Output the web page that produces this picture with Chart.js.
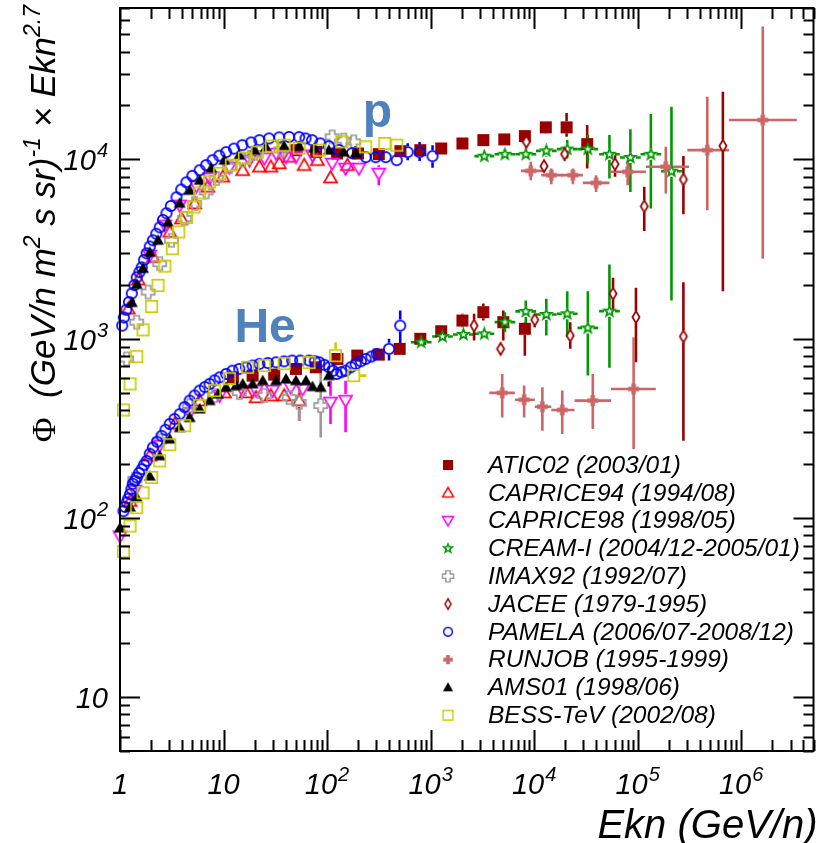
<!DOCTYPE html>
<html>
<head>
<meta charset="utf-8">
<script src="https://cdn.jsdelivr.net/npm/chart.js@4.4.1/dist/chart.umd.min.js"></script>
<style>
  html, body { margin: 0; padding: 0; background: #fff; }
</style>
</head>
<body>
<canvas id="fluxChart" width="821" height="843"></canvas>
<script>
// rows: [Ekn, flux, fluxLo, fluxHi, eLo, eHi]
var aticP = [[50.3, 11270], [78.4, 11030], [125, 10800], [199, 10800], [316, 10710], [511, 11120], [796, 11270],
  [1267, 11510], [2031, 12280], [3235, 12820], [5150, 12940], [8140, 13500, 12540, 14560],
  [12960, 15100, 13970, 16220], [20600, 15100, 13370, 18160], [32580, 12180, 8910, 15560]];
var aticHe = [[12.3, 608], [19.1, 622], [30.9, 630], [50, 678], [77.9, 692], [126, 771], [196, 805], [316, 815],
  [503, 877], [796, 998], [1267, 1100], [2031, 1262, 1159, 1377], [3235, 1406, 1262, 1571],
  [5036, 1236, 977, 1436], [8140, 1135, 804, 1236]];

var caprice94P = [[1.20, 1468], [1.50, 2133], [2.09, 2851], [3.03, 3937], [3.92, 4677], [5.26, 5675], [7.06, 7030],
  [9.85, 8000], [15.3, 8710], [22.2, 9100], [28.7, 9100], [34.5, 9500], [43.1, 10340], [60.1, 9290],
  [80.7, 9910], [108, 7920, 7400, 8500], [157, 9290]];
var caprice94He = [[1.25, 124], [1.94, 222], [3.38, 335], [5.88, 451], [10.2, 500], [16.5, 501], [20.6, 470],
  [28.7, 481], [38.5, 481], [53.8, 451, 348, 513]];

var caprice98P = [[1.94, 2917], [2.71, 4296], [3.77, 5550], [5.47, 7100], [7.34, 7860], [11.4, 9060], [17.8, 9910],
  [24.8, 10170], [32.2, 10810], [40.1, 10340], [50, 10340], [72.3, 10570], [112, 9500],
  [151, 8910, 8300, 9600], [203, 8910, 8200, 9700], [316, 8360, 7180, 9290]];
var caprice98He = [[1.0, 79], [1.39, 142], [2.42, 253], [4.71, 386], [9.17, 481], [15.3, 513], [20.6, 513],
  [29.8, 513], [44.6, 535], [58.1, 524], [108, 441, 334, 583], [151, 451, 300, 583]];

var creamP = [[3304, 10430, null, null, 2650, 4120], [5227, 10690, null, null, 4150, 6580],
  [8318, 10690, null, null, 6600, 10480], [13120, 11170, 10340, 12020, 10420, 16520],
  [20900, 11420, 10130, 12820, 16600, 26300], [33050, 11420, 9500, 13670, 26250, 41600],
  [53440, 10690, 7830, 13670, 42450, 67300], [85110, 10260, 6590, 14720, 67600, 107200],
  [134300, 10690, 5320, 17910, 106700, 169100], [212300, 8600, 1633, 19680, 168600, 267300]];
var creamHe = [[812, 955, null, null, 645, 1022], [1303, 1028, null, null, 1035, 1640],
  [2075, 1055, null, null, 1648, 2612], [3304, 1064, null, null, 2650, 4120],
  [5227, 1236, 1086, 1406, 4150, 6580], [8318, 1419, 1183, 1634, 6600, 10480],
  [13120, 1364, 1040, 1668, 10420, 16520], [20900, 1377, 1018, 1841, 16600, 26300],
  [33050, 1148, 622, 1841, 26250, 41600], [53440, 1424, 687, 2594, 42450, 67300]];

var imaxP = [[1.16, 771], [1.45, 1236], [1.87, 1820], [2.42, 2620], [3.14, 3540], [4.21, 4677], [5.26, 5675],
  [6.8, 6590], [8.52, 7830], [11.4, 9100], [15.3, 9910], [19.9, 10810], [36, 11300], [112, 13370],
  [145, 12820], [181, 12540]];
var imaxHe = [[1.39, 164], [2.42, 269], [4.71, 422], [8.19, 481], [14.2, 500], [24.8, 481], [43.1, 469],
  [53.8, 441, 348, 547], [86.9, 423, 281, 726]];

var jaceeP = [[8420, 12540], [12480, 9180, 8530, 9910], [19720, 10710, 9910, 11530], [60530, 9410, 8000, 10570],
  [115900, 5480, 3990, 7030], [276800, 7730, 4940, 10440], [666200, 11910, 1841, 23880]];
var jaceeHe = [[2632, 1183, 975, 1376], [4746, 877], [10140, 1274, 1159, 1376], [22340, 1040, 877, 1236],
  [57890, 1783, 1436, 2188], [96370, 1319, 738, 1923], [276800, 1028, 269, 2066]];

var pamelaP = [[1.05, 1183], [1.09, 1313], [1.15, 1450], [1.22, 1600], [1.30, 1787], [1.38, 1990], [1.45, 2198],
  [1.54, 2350], [1.62, 2500], [1.71, 2750], [1.81, 2993], [1.94, 3270], [2.08, 3540], [2.24, 3850],
  [2.42, 4180], [2.60, 4600], [2.81, 5010], [3.10, 5500], [3.51, 6150], [3.90, 6800], [4.38, 7460],
  [5.0, 8100], [5.88, 8710], [6.8, 9300], [7.84, 9910], [9.1, 10500], [10.6, 10990], [12.6, 11500],
  [15.2, 12020], [18.5, 12450], [22.2, 12810], [27.5, 13100], [34.5, 13280], [43, 13350], [53.8, 13330],
  [62, 13100], [71.7, 12810], [86, 12300], [104, 11870], [130, 11300], [174, 10840], [237, 10300],
  [295, 10300], [369, 10300], [471, 9910, 9300, 10600, 430, 516], [601, 10990, 9900, 12300, 549, 658],
  [784, 10990, 9800, 12500, 716, 858], [1045, 10430, 9000, 12000, 955, 1144]];
var pamelaHe = [[1.08, 109], [1.12, 115], [1.16, 122], [1.20, 128], [1.25, 135.5], [1.29, 145], [1.33, 155],
  [1.39, 161], [1.45, 168], [1.53, 178], [1.62, 187], [1.71, 198], [1.81, 208], [1.94, 228], [2.08, 247],
  [2.28, 266], [2.52, 287], [2.75, 310], [3.02, 334], [3.36, 356], [3.77, 379], [4.2, 415], [4.71, 451],
  [5.25, 482], [5.88, 513], [6.6, 537], [7.34, 559], [8.2, 585], [9.17, 608], [10.6, 635], [12.2, 663],
  [14.2, 678], [16.5, 692], [19.1, 708], [22.2, 723], [26.8, 731], [32.2, 738], [38.5, 747], [46, 755],
  [55, 755], [67, 755], [76, 748], [83.9, 738], [94, 715], [104.6, 692], [114, 662], [124, 635], [137, 650],
  [151, 663], [170, 693], [189, 723], [212, 748], [236, 771], [268, 795], [302, 822],
  [397, 877, 755, 1000, 362, 435], [509, 1183, 895, 1436, 465, 557]];

var runjobP = [[9290, 8630, 7660, 9700, 7450, 12210], [14660, 8170, 7280, 8910, 11730, 19010],
  [23710, 8170, 7280, 8910, 18320, 29580], [39700, 7400, 6590, 8170, 29580, 53440],
  [80160, 8530, 7180, 9700, 53440, 120200], [187100, 9100, 6450, 11760, 120200, 314100],
  [471200, 11270, 5200, 22400, 302600, 762000], [1618000, 16590, 2790, 55210, 762000, 3453000]];
var runjobHe = [[4920, 498, 363, 635, 3690, 6520], [8010, 456, 363, 547, 6520, 10160],
  [12020, 417, 306, 535, 10160, 14660], [18700, 400, 294, 513, 14660, 24600],
  [36900, 451, 313, 635, 24600, 55340], [91500, 524, 242, 1018, 55340, 150000]];

var ams01P = [[1.30, 1592], [1.45, 2009], [1.67, 2466], [1.94, 3034], [2.33, 3540], [2.91, 4457], [3.77, 5700],
  [4.71, 6730], [5.88, 7660], [7.62, 8940], [10.2, 9910], [14.2, 10570], [19.9, 11270], [25.7, 11720],
  [38.5, 11860], [53.8, 11860], [75.1, 11570], [104, 11270], [145, 10990], [189, 10840, 10000, 11900]];
var ams01He = [[1.00, 88], [1.25, 115], [1.45, 130], [1.94, 171], [2.42, 222], [3.02, 275], [3.77, 319],
  [4.71, 363], [5.88, 405], [7.34, 451], [8.83, 491], [10.6, 535], [13.2, 547], [15.3, 559], [19.1, 559],
  [23.9, 583], [32.2, 583], [40.1, 596], [50.0, 583], [62.6, 583], [72.3, 540], [86.9, 535],
  [104, 622, 540, 700]];

var bessP = [[1.08, 400], [1.25, 559], [1.45, 794], [1.67, 1120], [2.02, 1512], [2.33, 1982], [2.71, 2541],
  [3.21, 3177], [3.69, 3937], [4.38, 4742], [5.18, 5430], [5.88, 6500], [7.34, 7500], [9.17, 8356],
  [11.9, 9290], [15.9, 10170], [21.2, 10990], [29.0, 11870], [38.5, 12020], [53.8, 11570], [84.1, 11270],
  [139, 12540], [236, 11760], [361, 12280], [472, 12020]];
var bessHe = [[1.08, 65], [1.25, 90], [1.45, 114], [1.67, 138], [2.02, 168], [2.42, 208], [3.02, 256],
  [4.21, 327], [5.88, 423], [8.19, 513], [11.4, 598], [17.1, 692], [24.8, 708], [38.5, 726], [67, 736],
  [121, 804, 678, 955], [181, 622, null, null, 145, 240]];

var legendLabels = ['ATIC02 (2003/01)', 'CAPRICE94 (1994/08)', 'CAPRICE98 (1998/05)', 'CREAM-I (2004/12-2005/01)',
  'IMAX92 (1992/07)', 'JACEE (1979-1995)', 'PAMELA (2006/07-2008/12)', 'RUNJOB (1995-1999)',
  'AMS01 (1998/06)', 'BESS-TeV (2002/08)'];
var xDecades = [1, 10, 100, 1000, 10000, 100000, 1000000];
var xDecadeExp = ['', '', '2', '3', '4', '5', '6'];
var yDecades = [10, 100, 1000, 10000];
var yDecadeExp = ['', '2', '3', '4'];

var LABEL_FONT = 'italic 29px "Liberation Sans", Arial, sans-serif';
var SUP_FONT = 'italic 20px "Liberation Sans", Arial, sans-serif';

// little canvases used as point styles
function makeMarker(kind, color, s) {
  var n = Math.ceil(s + 4);
  var c = document.createElement('canvas');
  c.width = n; c.height = n;
  var g = c.getContext('2d');
  g.translate(n / 2, n / 2);
  g.strokeStyle = color;
  g.fillStyle = color;
  g.lineWidth = 1.7;
  var h = s / 2, a = s * 0.2;
  g.beginPath();
  if (kind === 'sqFill') {
    g.fillRect(-h, -h, s, s);
  } else if (kind === 'sqOpen') {
    g.strokeRect(-h + 0.8, -h + 0.8, s - 1.6, s - 1.6);
  } else if (kind === 'triUp' || kind === 'triFill') {
    g.moveTo(0, -h); g.lineTo(h, h * 0.75); g.lineTo(-h, h * 0.75); g.closePath();
    if (kind === 'triFill') g.fill(); else g.stroke();
  } else if (kind === 'triDown') {
    g.moveTo(0, h); g.lineTo(h, -h * 0.75); g.lineTo(-h, -h * 0.75); g.closePath();
    g.stroke();
  } else if (kind === 'circle') {
    g.arc(0, 0, h - 0.8, 0, Math.PI * 2);
    g.stroke();
  } else if (kind === 'diamond') {
    g.moveTo(0, -h); g.lineTo(h * 0.6, 0); g.lineTo(0, h); g.lineTo(-h * 0.6, 0); g.closePath();
    g.fillStyle = '#fff'; g.fill(); g.stroke();
  } else if (kind === 'star') {
    for (var i = 0; i < 10; i++) {
      var r = i % 2 === 0 ? h : h * 0.42;
      var ang = -Math.PI / 2 + i * Math.PI / 5;
      if (i === 0) g.moveTo(r * Math.cos(ang), r * Math.sin(ang));
      else g.lineTo(r * Math.cos(ang), r * Math.sin(ang));
    }
    g.closePath();
    g.fillStyle = '#fff'; g.fill(); g.stroke();
  } else if (kind === 'crossOpen') {
    var p = [[-a, -h], [a, -h], [a, -a], [h, -a], [h, a], [a, a], [a, h], [-a, h], [-a, a], [-h, a], [-h, -a], [-a, -a]];
    g.moveTo(p[0][0], p[0][1]);
    for (var k = 1; k < p.length; k++) g.lineTo(p[k][0], p[k][1]);
    g.closePath();
    g.stroke();
  } else if (kind === 'plusFill') {
    g.fillRect(-h, -a, s, 2 * a);
    g.fillRect(-a, -h, 2 * a, s);
  }
  return c;
}

function rows(list) {
  return list.map(function (r) {
    return { x: r[0], y: r[1], yLo: r[2] == null ? null : r[2], yHi: r[3] == null ? null : r[3],
      xLo: r[4] == null ? null : r[4], xHi: r[5] == null ? null : r[5] };
  });
}

var series = [
  { p: aticP, he: aticHe, kind: 'sqFill', color: '#990000', size: 12 },
  { p: caprice94P, he: caprice94He, kind: 'triUp', color: '#ff0000', size: 13 },
  { p: caprice98P, he: caprice98He, kind: 'triDown', color: '#ff00ff', size: 13 },
  { p: creamP, he: creamHe, kind: 'star', color: '#009900', size: 11 },
  { p: imaxP, he: imaxHe, kind: 'crossOpen', color: '#999999', size: 13 },
  { p: jaceeP, he: jaceeHe, kind: 'diamond', color: '#990000', size: 12 },
  { p: pamelaP, he: pamelaHe, kind: 'circle', color: '#0000ff', size: 12 },
  { p: runjobP, he: runjobHe, kind: 'plusFill', color: '#cc6666', size: 11 },
  { p: ams01P, he: ams01He, kind: 'triFill', color: '#000000', size: 12 },
  { p: bessP, he: bessHe, kind: 'sqOpen', color: '#cccc00', size: 13 }
];

var datasets = series.map(function (s, i) {
  var m = makeMarker(s.kind, s.color, s.size);
  return {
    label: legendLabels[i],
    data: rows(s.p).concat(rows(s.he)),
    pointStyle: m,
    pointRadius: s.size / 2,
    borderColor: s.color,
    backgroundColor: s.color,
    showLine: false,
    clip: false,
    order: series.length - i,
    barColor: s.color,
    gap: s.kind === 'plusFill' ? 0 : s.size / 2
  };
});

function drawPow(ctx, mant, exp, x, y, align) {
  ctx.font = LABEL_FONT;
  var w1 = ctx.measureText(mant).width;
  ctx.font = SUP_FONT;
  var w2 = exp ? ctx.measureText(exp).width + 1 : 0;
  var x0 = align === 'center' ? x - (w1 + w2) / 2 : x - (w1 + w2);
  ctx.textAlign = 'left';
  ctx.textBaseline = 'alphabetic';
  ctx.font = LABEL_FONT;
  ctx.fillText(mant, x0, y);
  if (exp) {
    ctx.font = SUP_FONT;
    ctx.fillText(exp, x0 + w1 + 1, y - 13);
  }
}

// error bars, drawn under the markers and stopping at the marker edge
var errorBars = {
  id: 'errorBars',
  beforeDatasetsDraw: function (chart) {
    var ctx = chart.ctx, xs = chart.scales.x, ys = chart.scales.y, area = chart.chartArea;
    ctx.save();
    ctx.beginPath();
    ctx.rect(area.left, area.top, area.right - area.left, area.bottom - area.top);
    ctx.clip();
    ctx.lineWidth = 2.6;
    chart.data.datasets.forEach(function (ds) {
      ctx.strokeStyle = ds.barColor;
      ds.data.forEach(function (d) {
        var px = xs.getPixelForValue(d.x), py = ys.getPixelForValue(d.y), g = ds.gap;
        ctx.beginPath();
        if (d.yLo != null) {
          var lo = ys.getPixelForValue(d.yLo), hi = ys.getPixelForValue(d.yHi);
          if (lo > py + g) { ctx.moveTo(px, py + g); ctx.lineTo(px, lo); }
          if (hi < py - g) { ctx.moveTo(px, py - g); ctx.lineTo(px, hi); }
        }
        if (d.xLo != null) {
          var l = xs.getPixelForValue(d.xLo), r = xs.getPixelForValue(d.xHi);
          if (l < px - g) { ctx.moveTo(px - g, py); ctx.lineTo(l, py); }
          if (r > px + g) { ctx.moveTo(px + g, py); ctx.lineTo(r, py); }
        }
        ctx.stroke();
      });
    });
    ctx.restore();
  }
};

// frame, inward ticks, labels, titles and legend
var decor = {
  id: 'decor',
  afterDraw: function (chart) {
    var ctx = chart.ctx, xs = chart.scales.x, ys = chart.scales.y, a = chart.chartArea;
    ctx.save();
    ctx.strokeStyle = '#000';
    ctx.fillStyle = '#000';
    ctx.lineWidth = 2;
    ctx.strokeRect(a.left, a.top, a.right - a.left, a.bottom - a.top);

    ctx.beginPath();
    var dec, k, v, px, py, len;
    for (dec = 1; dec <= 1e6; dec *= 10) {
      for (k = 1; k <= 9; k++) {
        v = dec * k;
        if (v > xs.max) break;
        px = Math.round(xs.getPixelForValue(v)) + 0.5;
        len = k === 1 ? 21 : 11;
        ctx.moveTo(px, a.bottom); ctx.lineTo(px, a.bottom - len);
        ctx.moveTo(px, a.top); ctx.lineTo(px, a.top + len);
      }
    }
    for (dec = 1; dec <= 1e4; dec *= 10) {
      for (k = 1; k <= 9; k++) {
        v = dec * k;
        if (v < ys.min || v > ys.max) continue;
        py = Math.round(ys.getPixelForValue(v)) + 0.5;
        len = k === 1 ? 20 : 10;
        ctx.moveTo(a.left, py); ctx.lineTo(a.left + len, py);
        ctx.moveTo(a.right, py); ctx.lineTo(a.right - len, py);
      }
    }
    ctx.stroke();

    xDecades.forEach(function (v, i) {
      drawPow(ctx, i === 0 ? '1' : '10', xDecadeExp[i], xs.getPixelForValue(v), 794, 'center');
    });
    yDecades.forEach(function (v, i) {
      drawPow(ctx, '10', yDecadeExp[i], 108, ys.getPixelForValue(v) + 11, 'right');
    });

    // x title
    ctx.font = 'italic 40px "Liberation Sans", Arial, sans-serif';
    ctx.textAlign = 'right';
    ctx.textBaseline = 'alphabetic';
    ctx.fillText('Ekn (GeV/n)', a.right + 4, 838);

    // y title, written upwards and ending at the top of the frame
    var it = 'italic 35px "Liberation Sans", Arial, sans-serif';
    var sup = 'italic 23px "Liberation Sans", Arial, sans-serif';
    var parts = [
      { t: '\u03A6', f: '34px "Liberation Serif", serif', r: 0 },
      { t: '  (GeV/n m', f: it, r: 0 },
      { t: '2', f: sup, r: 15 },
      { t: ' s sr)', f: it, r: 0 },
      { t: '-1', f: sup, r: 15 },
      { t: ' \u00D7 Ekn', f: it, r: 0 },
      { t: '2.7', f: sup, r: 15 }
    ];
    var total = 0;
    parts.forEach(function (p) { ctx.font = p.f; p.w = ctx.measureText(p.t).width; total += p.w; });
    ctx.save();
    ctx.translate(55, a.top - 3 + total);
    ctx.rotate(-Math.PI / 2);
    ctx.textAlign = 'left';
    var cx = 0;
    parts.forEach(function (p) { ctx.font = p.f; ctx.fillText(p.t, cx, -p.r); cx += p.w; });
    ctx.restore();

    // species tags
    ctx.fillStyle = '#4f81bd';
    ctx.font = 'bold 48px "Liberation Sans", Arial, sans-serif';
    ctx.textAlign = 'center';
    ctx.fillText('p', xs.getPixelForValue(306), ys.getPixelForValue(15160));
    ctx.fillText('He', xs.getPixelForValue(25.2), ys.getPixelForValue(964));

    // legend
    ctx.fillStyle = '#000';
    ctx.font = 'italic 24.5px "Liberation Sans", Arial, sans-serif';
    ctx.textAlign = 'left';
    ctx.textBaseline = 'middle';
    chart.data.datasets.forEach(function (ds, i) {
      var y = 465 + i * 27.8, m = ds.pointStyle, sc = 0.85;
      ctx.drawImage(m, 448 - m.width * sc / 2, y - m.height * sc / 2, m.width * sc, m.height * sc);
      ctx.fillText(ds.label, 488, y + 1);
    });
    ctx.restore();
  }
};

new Chart(document.getElementById('fluxChart').getContext('2d'), {
  type: 'scatter',
  data: { datasets: datasets },
  options: {
    responsive: false,
    animation: false,
    devicePixelRatio: 1,
    layout: { padding: { left: 120, top: 8, right: 3, bottom: 92 } },
    plugins: { legend: { display: false }, tooltip: { enabled: false } },
    scales: {
      x: { type: 'logarithmic', min: 1, max: 5e6, display: false },
      y: { type: 'logarithmic', min: 5, max: 7e4, display: false }
    }
  },
  plugins: [errorBars, decor]
});
</script>
</body>
</html>
